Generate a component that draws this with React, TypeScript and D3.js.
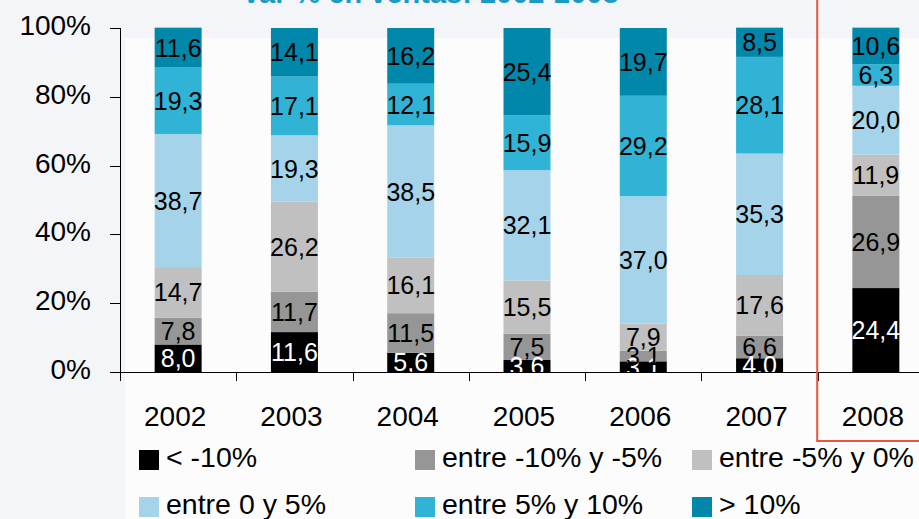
import * as d3 from 'd3';

const years = ['2002', '2003', '2004', '2005', '2006', '2007', '2008'];
const menosDiez = [8.0, 11.6, 5.6, 3.6, 3.1, 4.0, 24.4];
const entreMenosDiezCinco = [7.8, 11.7, 11.5, 7.5, 3.1, 6.6, 26.9];
const entreMenosCincoCero = [14.7, 26.2, 16.1, 15.5, 7.9, 17.6, 11.9];
const entreCeroCinco = [38.7, 19.3, 38.5, 32.1, 37.0, 35.3, 20.0];
const entreCincoDiez = [19.3, 17.1, 12.1, 15.9, 29.2, 28.1, 6.3];
const masDiez = [11.6, 14.1, 16.2, 25.4, 19.7, 8.5, 10.6];

const seriesNames = [
	'< -10%',
	'entre -10% y -5%',
	'entre -5% y 0%',
	'entre 0 y 5%',
	'entre 5% y 10%',
	'> 10%',
];
const seriesValues = [
	menosDiez,
	entreMenosDiezCinco,
	entreMenosCincoCero,
	entreCeroCinco,
	entreCincoDiez,
	masDiez,
];
const colors = ['#000000', '#969696', '#c0c0c0', '#a5d4ea', '#30b3d4', '#0087aa'];
const yTicks = [0, 20, 40, 60, 80, 100];
const title = 'Var % en ventas: 2002-2008';

const width = 919,
	height = 519;
const font = '"Liberation Sans", Arial, sans-serif';

// legend order: row 1 then row 2
const legendCols = [139, 415, 692];
const legendRows = [450, 497];

export default function App() {
	const rows = years.map((y, i) => {
		const row: any = { year: y };
		seriesNames.forEach((s, j) => (row[s] = seriesValues[j][i]));
		return row;
	});
	const stacked = d3.stack().keys(seriesNames)(rows);

	const xScale = d3
		.scaleBand()
		.domain(years)
		.range([120, 934])
		.paddingInner(0.596)
		.paddingOuter(0.298);
	const yScale = d3.scaleLinear().domain([0, 100]).range([372, 28]);
	const step = xScale.step();
	const fmt = (v: number) => d3.format('.1f')(v).replace('.', ',');

	return (
		<svg
			width={width}
			height={height}
			style={{ position: 'fixed', left: 0, top: 0, display: 'block' }}
			fontFamily={font}
		>
			<rect width={width} height={height} fill="#f3f5f8" />
			<rect x={125} y={38} width={width - 125} height={height - 38} fill="#fcfcfd" />

			{/* title, cut off at top */}
			<text
				x={430}
				y={3}
				textAnchor="middle"
				fontWeight="bold"
				fontSize={29}
				fill="#1a9bc6"
			>
				{title}
			</text>

			{/* bars */}
			{stacked.map((s, j) => (
				<g key={s.key} fill={colors[j]}>
					{s.map((d, i) => (
						<rect
							key={years[i]}
							x={xScale(years[i])}
							y={yScale(d[1])}
							width={xScale.bandwidth()}
							height={yScale(d[0]) - yScale(d[1])}
						/>
					))}
				</g>
			))}
			{stacked.map((s, j) =>
				s.map((d, i) => (
					<text
						key={s.key + years[i]}
						x={xScale(years[i])! + xScale.bandwidth() / 2}
						y={(yScale(d[0]) + yScale(d[1])) / 2}
						dy="0.36em"
						textAnchor="middle"
						fontSize={25}
						fill={j === 0 ? 'white' : 'black'}
					>
						{fmt(seriesValues[j][i])}
					</text>
				))
			)}

			{/* left axis */}
			<g stroke="black" strokeWidth={1}>
				<line x1={120.5} x2={120.5} y1={28} y2={381} />
				{yTicks.map((t) => (
					<line key={t} x1={110} x2={120} y1={Math.round(yScale(t)) + 0.5} y2={Math.round(yScale(t)) + 0.5} />
				))}
			</g>
			{yTicks.map((t) => (
				<text key={t} x={91} y={yScale(t) + 7} textAnchor="end" fontSize={28} fill="black">
					{t}%
				</text>
			))}

			{/* bottom axis */}
			<g stroke="black" strokeWidth={1}>
				<line x1={120} x2={width} y1={372.5} y2={372.5} />
				{years.map((y, i) => (
					<line key={y} x1={Math.round(120 + i * step) + 0.5} x2={Math.round(120 + i * step) + 0.5} y1={372} y2={381} />
				))}
			</g>
			{years.map((y) => (
				<text
					key={y}
					x={xScale(y)! + xScale.bandwidth() / 2 - 3}
					y={426}
					textAnchor="middle"
					fontSize={28}
					fill="black"
				>
					{y}
				</text>
			))}

			{/* highlight 2008 */}
			<rect
				x={120 + 6 * step - 0.5}
				y={-5}
				width={width + 20 - (120 + 6 * step)}
				height={446}
				fill="none"
				stroke="#e8553a"
				strokeWidth={2}
			/>

			{/* legend */}
			{seriesNames.map((s, j) => {
				const x = legendCols[j % 3];
				const y = legendRows[Math.floor(j / 3)];
				return (
					<g key={s}>
						<rect x={x} y={y} width={20} height={20} fill={colors[j]} />
						<text x={x + 27} y={y + 17} fontSize={28.5} fill="black">
							{s}
						</text>
					</g>
				);
			})}
		</svg>
	);
}
